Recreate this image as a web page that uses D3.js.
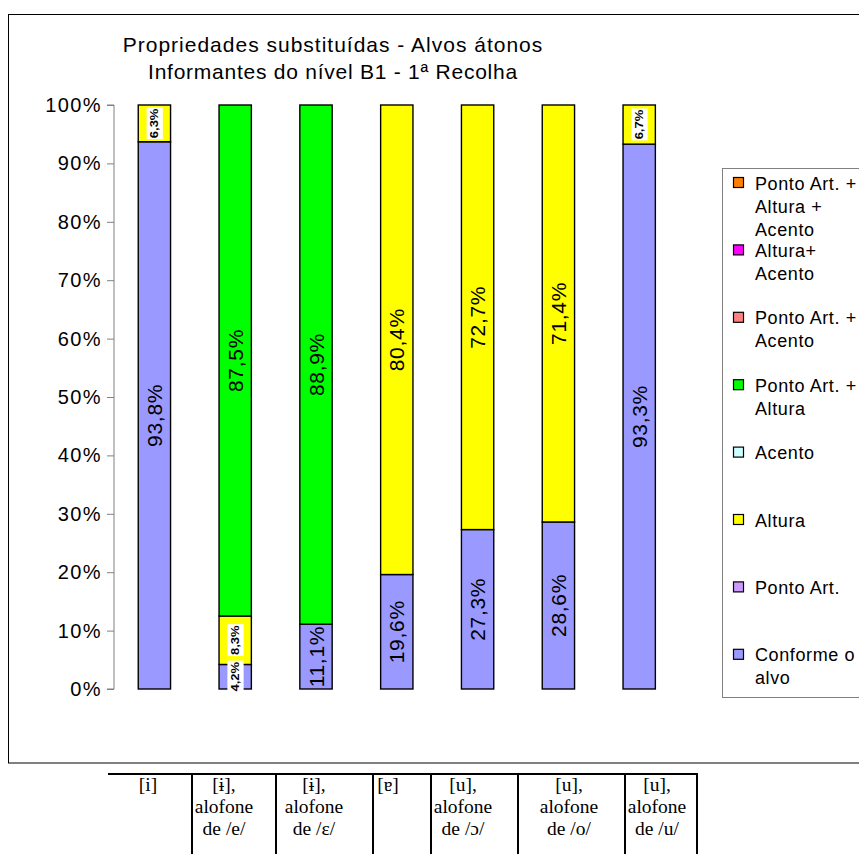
<!DOCTYPE html>
<html>
<head>
<meta charset="utf-8">
<script src="https://cdn.jsdelivr.net/npm/d3@7"></script>
<style>
  html, body { margin: 0; padding: 0; background: #fff; }
  svg { display: block; font-family: "Liberation Sans", Arial, sans-serif; }
</style>
</head>
<body>
<svg id="chart" width="859" height="854"></svg>
<script>
// ---------------- data ----------------
const titleLines = ["Propriedades substituídas - Alvos átonos", "Informantes do nível B1 - 1ª Recolha"];
const categories = ["[i]", "[ɨ] /e/", "[ɨ] /ɛ/", "[ɐ]", "[u] /ɔ/", "[u] /o/", "[u] /u/"];
const tableLabels = [
  ["[i]"],
  ["[ɨ],", "alofone", "de /e/"],
  ["[ɨ],", "alofone", "de /ɛ/"],
  ["[ɐ]"],
  ["[u],", "alofone", "de /ɔ/"],
  ["[u],", "alofone", "de /o/"],
  ["[u],", "alofone", "de /u/"]
];
const seriesNames = ["Conforme o alvo", "Ponto Art.", "Altura", "Acento",
  "Ponto Art. + Altura", "Ponto Art. + Acento", "Altura+ Acento", "Ponto Art. + Altura + Acento"];
const legendLines = [
  ["Conforme o", "alvo"], ["Ponto Art."], ["Altura"], ["Acento"],
  ["Ponto Art. +", "Altura"], ["Ponto Art. +", "Acento"], ["Altura+", "Acento"],
  ["Ponto Art. +", "Altura +", "Acento"]
];
const seriesColors = ["#9999FF", "#CC99FF", "#FFFF00", "#CCFFFF", "#00FF00", "#FF8080", "#FF00FF", "#FF8000"];
const conformeAlvo      = [93.8, 4.2, 11.1, 19.6, 27.3, 28.6, 93.3];
const pontoArt          = [0, 0, 0, 0, 0, 0, 0];
const altura            = [6.3, 8.3, 0, 80.4, 72.7, 71.4, 6.7];
const acento            = [0, 0, 0, 0, 0, 0, 0];
const pontoArtAltura    = [0, 87.5, 88.9, 0, 0, 0, 0];
const pontoArtAcento    = [0, 0, 0, 0, 0, 0, 0];
const alturaAcento      = [0, 0, 0, 0, 0, 0, 0];
const pontoArtAltAcento = [0, 0, 0, 0, 0, 0, 0];
const yTicks = [0, 0.1, 0.2, 0.3, 0.4, 0.5, 0.6, 0.7, 0.8, 0.9, 1.0];

const seriesValues = [conformeAlvo, pontoArt, altura, acento, pontoArtAltura, pontoArtAcento, alturaAcento, pontoArtAltAcento];
const rows = categories.map((c, i) => {
  const r = { cat: c };
  seriesNames.forEach((s, k) => r[s] = seriesValues[k][i]);
  return r;
});

// ---------------- layout ----------------
const svg = d3.select("#chart");
const plot = { left: 114, right: 679.6, top: 105, bottom: 689 };

// outer chart border
svg.append("rect").attr("x", 8.5).attr("y", 14.5).attr("width", 900).attr("height", 748.5)
  .attr("fill", "none").attr("stroke", "#000").attr("stroke-width", 1);

// title
svg.append("g").selectAll("text").data(titleLines).join("text")
  .attr("x", 333).attr("y", (d, i) => 52 + i * 27)
  .attr("text-anchor", "middle").attr("font-size", 21).attr("letter-spacing", (d, i) => i ? 0.75 : 1)
  .attr("fill", "#000").text(d => d);

const x = d3.scaleBand().domain(categories).range([plot.left, plot.right])
  .paddingInner(0.6).paddingOuter(0.3);
const y = d3.scaleLinear().domain([0, 1]).range([plot.bottom, plot.top]);

// y axis
const yAxis = d3.axisLeft(y).tickValues(yTicks).tickFormat(d3.format(".0%")).tickSize(7).tickPadding(5);
const ag = svg.append("g").attr("transform", `translate(${plot.left},0)`).call(yAxis);
ag.select(".domain").attr("stroke", "#808080").attr("d", `M-7,${plot.top}H0V${plot.bottom}H-7`);
ag.selectAll(".tick line").attr("stroke", "#808080");
ag.selectAll(".tick text").attr("font-size", 20).attr("letter-spacing", 1.4)
  .attr("font-family", "Liberation Sans, Arial, sans-serif").attr("fill", "#000");

// stacked bars
const stack = d3.stack().keys(seriesNames).offset(d3.stackOffsetExpand);
const layers = stack(rows);

const bars = svg.append("g");
layers.forEach((layer, k) => {
  bars.append("g").selectAll("rect").data(layer.filter(d => d[1] - d[0] > 0)).join("rect")
    .attr("x", d => x(d.data.cat)).attr("width", x.bandwidth())
    .attr("y", d => y(d[1])).attr("height", d => y(d[0]) - y(d[1]))
    .attr("fill", seriesColors[k]).attr("stroke", "#000").attr("stroke-width", 1.4);
});

// data labels
const fmt = v => v.toFixed(1).replace(".", ",") + "%";
const lab = svg.append("g");
layers.forEach((layer, k) => {
  layer.forEach((d, i) => {
    const v = seriesValues[k][i];
    if (!(v > 0)) return;
    const cx = x(d.data.cat) + x.bandwidth() / 2;
    const cy = (y(d[0]) + y(d[1])) / 2;
    const g = lab.append("g").attr("transform", `translate(${cx},${cy}) rotate(-90)`);
    const small = v < 10;
    const t = g.append("text").attr("text-anchor", "middle").attr("dy", "0.36em")
      .attr("font-size", small ? 13 : 21).attr("letter-spacing", small ? 0 : 0.7)
      .attr("fill", "#000").text(fmt(v));
    if (small) {
      t.attr("font-weight", "bold").attr("transform", "scale(1,0.85)");
      const b = t.node().getBBox();
      g.insert("rect", "text").attr("x", b.x - 1).attr("y", (b.y - 2) * 0.85)
        .attr("width", b.width + 2).attr("height", (b.height + 4) * 0.85).attr("fill", "#fff");
    }
  });
});

// legend
const lg = svg.append("g");
lg.append("rect").attr("x", 722.5).attr("y", 168.5).attr("width", 200).attr("height", 529)
  .attr("fill", "#fff").attr("stroke", "#808080").attr("stroke-width", 1);
const legendOrder = d3.range(seriesNames.length).reverse();
legendOrder.forEach((k, j) => {
  const yc = 183 + j * 67.4;
  lg.append("rect").attr("x", 733.5).attr("y", yc - 5.5).attr("width", 10).attr("height", 10)
    .attr("fill", seriesColors[k]).attr("stroke", "#000").attr("stroke-width", 1.2);
  lg.append("g").selectAll("text").data(legendLines[k]).join("text")
    .attr("x", 755).attr("y", (d, i) => yc + 6.5 + i * 23)
    .attr("font-size", 18).attr("letter-spacing", 0.6).attr("fill", "#000").text(d => d);
});

// category table below the chart
const colEdges = [108, 192, 276, 373, 431, 518, 625, 697];
const colCenters = [148, 224, 314, 388, 463, 569, 657];
const tg = svg.append("g");
tg.append("line").attr("x1", colEdges[0]).attr("x2", colEdges[colEdges.length - 1] + 1)
  .attr("y1", 774).attr("y2", 774).attr("stroke", "#000").attr("stroke-width", 2);
colEdges.slice(1).forEach(e => {
  tg.append("line").attr("x1", e).attr("x2", e).attr("y1", 773).attr("y2", 854)
    .attr("stroke", "#000").attr("stroke-width", 2);
});
tableLabels.forEach((lines, i) => {
  tg.append("g").selectAll("text").data(lines).join("text")
    .attr("x", colCenters[i]).attr("y", (d, j) => 791 + j * 22)
    .attr("text-anchor", "middle").attr("font-family", "Liberation Serif, Times New Roman, serif")
    .attr("font-size", 19.5).attr("fill", "#000").text(d => d);
});
</script>
</body>
</html>
